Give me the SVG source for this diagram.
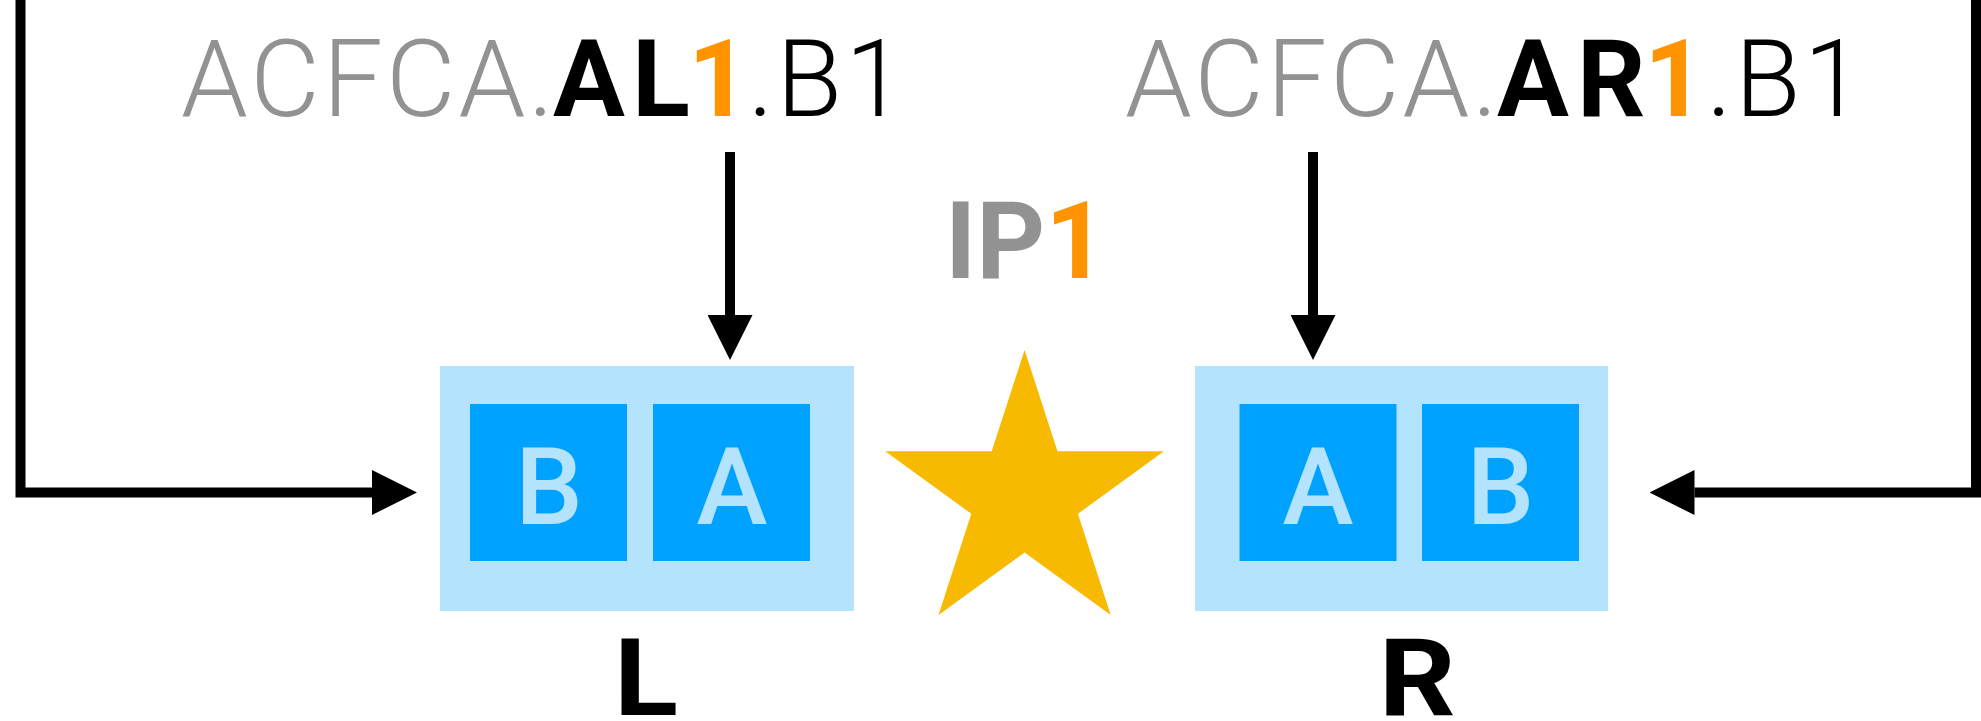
<svg xmlns="http://www.w3.org/2000/svg" width="1981" height="721" viewBox="0 0 1981 721">
<defs>
<style>
.conn{fill:none;stroke:#000;stroke-width:10;}
.outer{fill:#B4E3FD;}
.inner{fill:#00A2FF;}
.inl{font-family:Roboto,"Liberation Sans",Arial,sans-serif;font-size:107px;font-weight:500;fill:#B4E3FD;text-anchor:middle;}
.t{font-family:Roboto,"Liberation Sans",Arial,sans-serif;font-size:107px;}
.lt{font-weight:300;letter-spacing:3px;}
.bd{font-weight:bold;}
.gray{fill:#929292;}
.blk{fill:#000;}
.org{fill:#FF9300;}
</style>
<marker id="ah" markerUnits="userSpaceOnUse" markerWidth="45" markerHeight="45" refX="0" refY="22.5" orient="auto" viewBox="0 0 45 45">
<path d="M0,0 L45,22.5 L0,45 Z" fill="#000"/>
</marker>
</defs>
<rect width="1981" height="721" fill="#fff"/>
<g id="connectors">
<path class="conn" d="M20.5,0 V492.5 H372" marker-end="url(#ah)"/>
<path class="conn" d="M1976,0 V492.5 H1694.5" marker-end="url(#ah)"/>
<path class="conn" d="M730,152 V315" marker-end="url(#ah)"/>
<path class="conn" d="M1313,152 V315" marker-end="url(#ah)"/>
</g>
<g id="label-AL">
<text class="t blk" y="116"><tspan class="lt gray" x="181">ACFCA.</tspan><tspan class="bd" x="553">A</tspan><tspan class="bd" dx="7">L</tspan><tspan class="bd org" x="688">1</tspan><tspan class="lt" x="748">.B1</tspan></text>
</g>
<g id="label-AR">
<text class="t blk" y="116"><tspan class="lt gray" x="1125">ACFCA.</tspan><tspan class="bd" x="1497">A</tspan><tspan class="bd" dx="8">R</tspan><tspan class="bd org" x="1644">1</tspan><tspan class="lt" x="1706.5">.B1</tspan></text>
</g>
<g id="label-IP1">
<text class="t bd gray" x="945" y="278">IP<tspan class="org">1</tspan></text>
</g>
<g id="node-L">
<rect class="outer" x="440" y="366" width="414" height="245"/>
<rect class="inner" x="470" y="404" width="157" height="157"/>
<rect class="inner" x="653" y="404" width="157" height="157"/>
<text class="inl" x="549" y="524">B</text>
<text class="inl" x="732" y="524">A</text>
<text class="t bd blk" x="614" y="715" textLength="64" lengthAdjust="spacingAndGlyphs">L</text>
</g>
<g id="star">
<polygon fill="#F7BA00" points="1024.6,350 1057.5,451.2 1163.9,451.2 1077.9,513.8 1110.7,615 1024.6,552.5 938.5,615 971.3,513.8 885.3,451.2 991.7,451.2"/>
</g>
<g id="node-R">
<rect class="outer" x="1195" y="366" width="413" height="245"/>
<rect class="inner" x="1239.5" y="404" width="157" height="157"/>
<rect class="inner" x="1422" y="404" width="157" height="157"/>
<text class="inl" x="1318" y="524">A</text>
<text class="inl" x="1500.5" y="524">B</text>
<text class="t bd blk" x="1378.7" y="715" textLength="77" lengthAdjust="spacingAndGlyphs">R</text>
</g>
</svg>
